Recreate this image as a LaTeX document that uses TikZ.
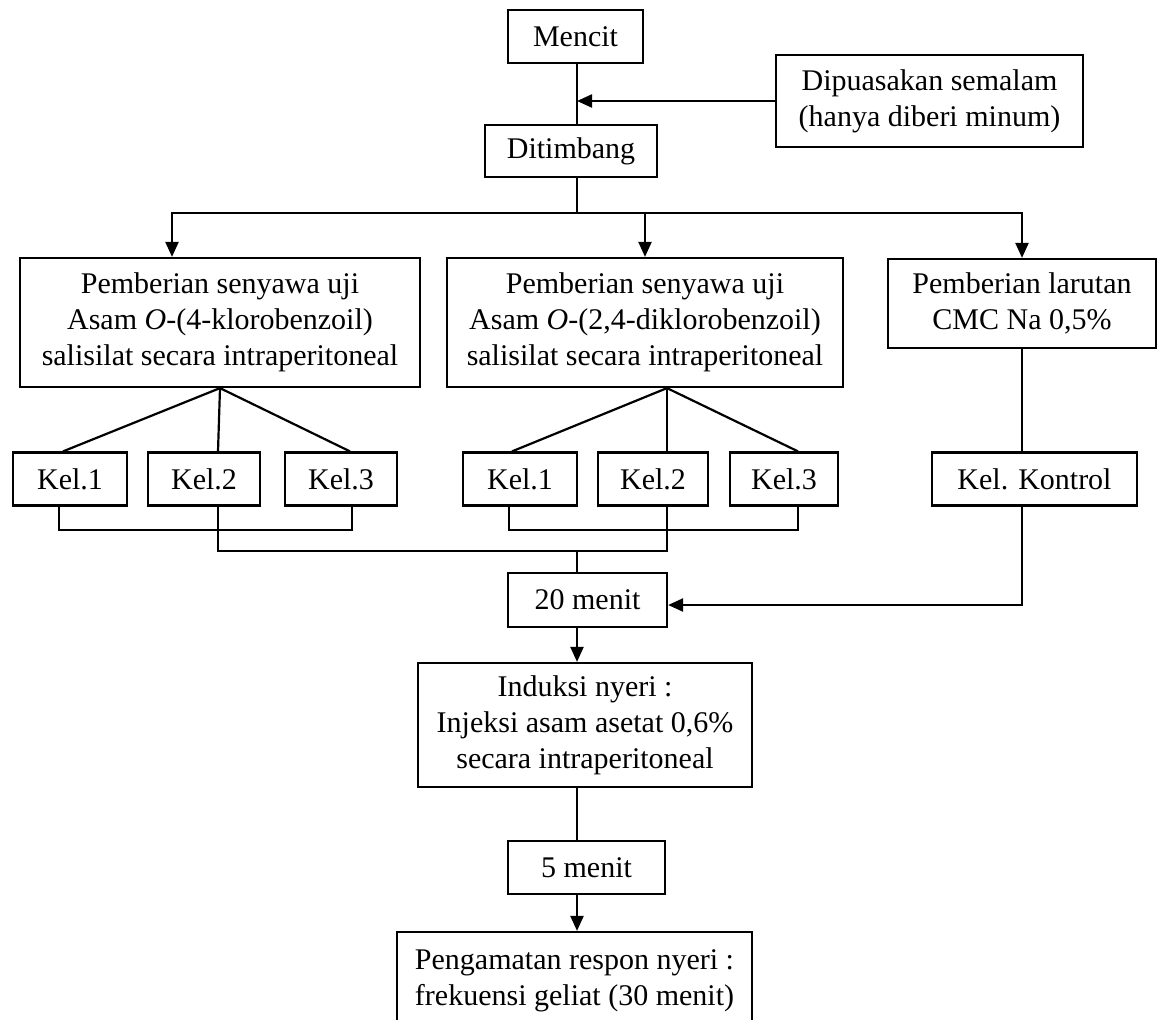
\documentclass[tikz,border=0pt]{standalone}
\usepackage{fontspec}
\setmainfont{Liberation Serif}
\usetikzlibrary{arrows.meta,positioning,calc}

\begin{document}
\begin{tikzpicture}[
    x=1pt, y=-1pt,
    every node/.style={font=\fontsize{30}{36}\selectfont},
    box/.style={draw, line width=2.2pt, align=center, inner sep=0pt},
    kel/.style={box, minimum height=53pt},
    line/.style={line width=2.2pt},
    arr/.style={line width=2.2pt, -{Triangle[length=15pt,width=13pt]}}
]
\useasboundingbox (0,0) rectangle (1158,1019);

% Preparation of the mice
\node[box, minimum width=135pt, minimum height=53pt] (mencit) at (575.5,36.5) {Mencit};
\node[box, minimum width=307pt, minimum height=92pt] (puasa) at (929.5,101) {Dipuasakan semalam\\(hanya diberi minum)};
\node[box, minimum width=172pt, minimum height=52pt] (timbang) at (571,151) {Ditimbang};

% Treatments
\node[box, minimum width=400pt, minimum height=129pt] (uji1) at (220,322.5) {Pemberian senyawa uji\\Asam \textit{O}-(4-klorobenzoil)\\salisilat secara intraperitoneal};
\node[box, minimum width=396pt, minimum height=129pt] (uji2) at (645,322.5) {Pemberian senyawa uji\\Asam \textit{O}-(2,4-diklorobenzoil)\\salisilat secara intraperitoneal};
\node[box, minimum width=268pt, minimum height=89pt] (cmc) at (1022,303.5) {Pemberian larutan\\CMC Na 0,5\%};

% Groups
\node[kel, minimum width=114pt] (k11) at (70,479) {Kel.1};
\node[kel, minimum width=112pt] (k12) at (204,479) {Kel.2};
\node[kel, minimum width=112pt] (k13) at (341,479) {Kel.3};
\node[kel, minimum width=114pt] (k21) at (520,479) {Kel.1};
\node[kel, minimum width=110pt] (k22) at (653,479) {Kel.2};
\node[kel, minimum width=108pt] (k23) at (784,479) {Kel.3};
\node[kel, minimum width=205pt] (kontrol) at (1034.5,479) {Kel. Kontrol};

% Observation
\node[box, minimum width=159pt, minimum height=54pt] (menit20) at (587.5,600) {20 menit};
\node[box, minimum width=334pt, minimum height=124pt] (induksi) at (585,725) {Induksi nyeri :\\Injeksi asam asetat 0,6\%\\secara intraperitoneal};
\node[box, minimum width=157pt, minimum height=53pt] (menit5) at (586.5,867.5) {5 menit};
\node[box, minimum width=355pt, minimum height=98pt] (amati) at (574.5,981) {Pengamatan respon nyeri :\\frekuensi geliat (30 menit)};

\coordinate (split) at (577,213);
\coordinate (join) at (577,551);
\coordinate (apex2) at ([xshift=22pt]uji2.south);

% Top connectors
\draw[line] (mencit.south -| split) -- (timbang.north -| split);
\draw[arr] (puasa.west) -- (puasa.west -| split);
\draw[line] (timbang.south -| split) -- (split);
\draw[arr] (split) -| ([xshift=-48pt]uji1.north);
\draw[arr] (split) -| (uji2.north);
\draw[arr] (split) -| (cmc.north);

% Fans to groups
\draw[line] (uji1.south) -- ([xshift=-7pt]k11.north);
\draw[line] (uji1.south) -- ([xshift=14pt]k12.north);
\draw[line] (uji1.south) -- ([xshift=9pt]k13.north);
\draw[line] (apex2) -- ([xshift=-8pt]k21.north);
\draw[line] (apex2) -- (apex2 |- k22.north);
\draw[line] (apex2) -- ([xshift=14pt]k23.north);
\draw[line] (cmc.south) -- (cmc.south |- kontrol.north);

% Groups together
\draw[line] ([xshift=-11pt]k11.south) -- ++(0,23) -| ([xshift=11pt]k13.south);
\draw[line] ([xshift=-11pt]k21.south) -- ++(0,23) -| ([xshift=14pt]k23.south);
\draw[line] ([xshift=14pt]k12.south) |- (join) -| (apex2 |- k22.south);
\draw[line] (join) -- (join |- menit20.north);
\draw[arr] (cmc.south |- kontrol.south) |- ([yshift=-5pt]menit20.east);

% Down the column
\draw[arr] (join |- menit20.south) -- (join |- induksi.north);
\draw[line] (join |- induksi.south) -- (join |- menit5.north);
\draw[arr] (join |- menit5.south) -- (join |- amati.north);

\end{tikzpicture}
\end{document}
